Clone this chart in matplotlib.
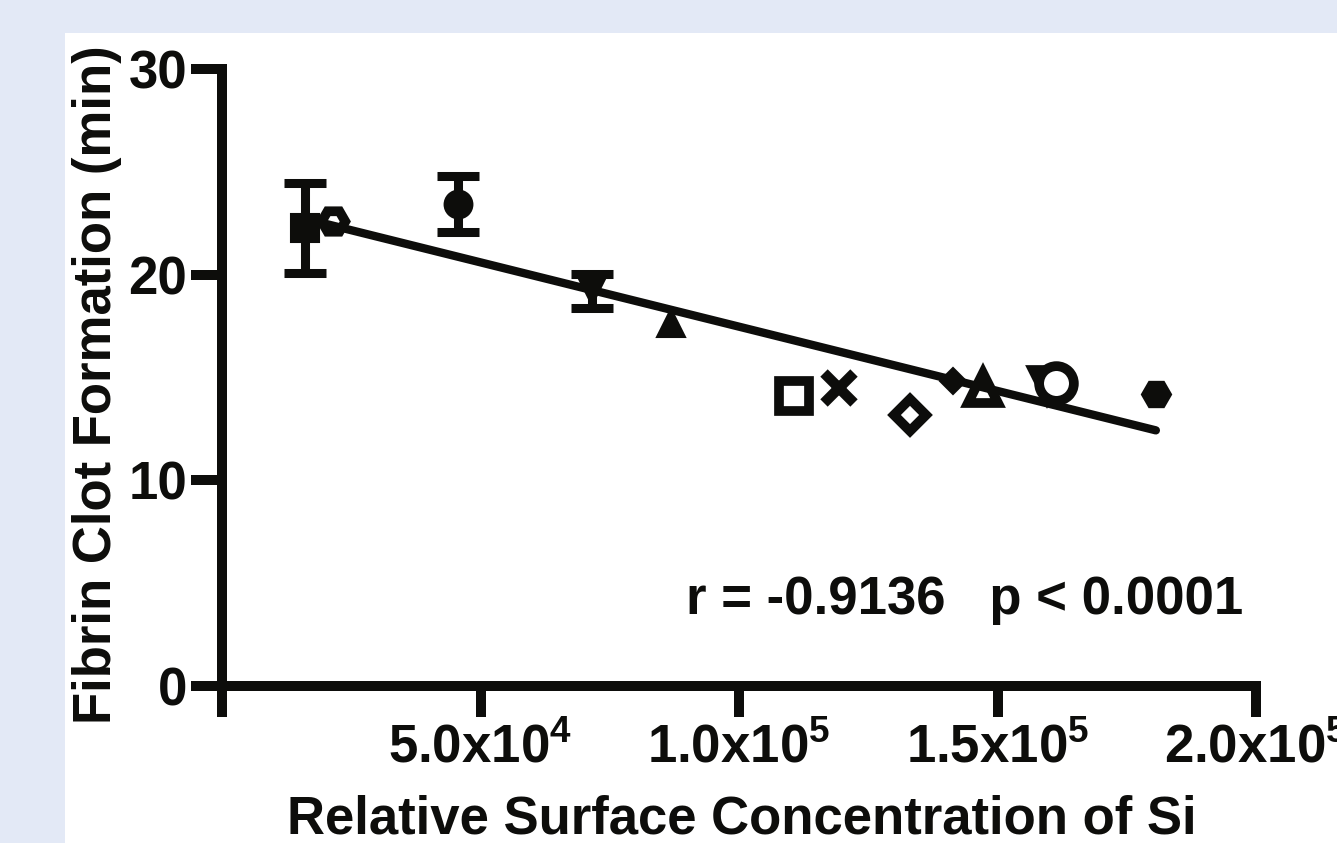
import matplotlib
matplotlib.use("Agg")
import matplotlib.pyplot as plt
from matplotlib import font_manager
from matplotlib.patches import Rectangle

# ---------------- data ----------------
si_conc = [16070, 21490, 45690, 71630, 86930, 110550, 119260,
           133000, 141330, 147140, 159530, 161270, 180630]
clot_time = [22.28, 22.62, 23.45, 19.22, 17.65, 14.08, 14.47,
             13.20, 14.85, 14.51, 14.66, 14.71, 14.22]
clot_err = [2.2, 0.0, 1.36, 0.83, 0.0, 0.0, 0.0,
            0.0, 0.0, 0.0, 0.0, 0.0, 0.0]
markers = ['s', 'H', 'o', 'v', '^', 's', 'x',
           'D', 'D', '^', 'v', 'o', 'H']
filled = [True, False, True, True, True, False, True,
          False, True, False, False, False, True]
fit_x = [16070, 180630]
fit_y = [22.72, 12.43]
x_ticks = [0, 50000, 100000, 150000, 200000]
x_ticklabels = ['', r'$\mathrm{5.0x10^{4}}$', r'$\mathrm{1.0x10^{5}}$',
                r'$\mathrm{1.5x10^{5}}$', r'$\mathrm{2.0x10^{5}}$']
y_ticks = [0, 10, 20, 30]
y_ticklabels = ['0', '10', '20', '30']
annotation = 'r = -0.9136   p < 0.0001'
xlabel = 'Relative Surface Concentration of Si'
ylabel = 'Fibrin Clot Formation (min)'

# ---------------- fonts ----------------
names = {f.name for f in font_manager.fontManager.ttflist}
if 'Liberation Sans Narrow' in names:
    fam, fs = 'Liberation Sans Narrow', 45
else:
    fam, fs = 'Liberation Sans', 38
plt.rcParams['font.family'] = [fam, 'DejaVu Sans']
plt.rcParams['font.weight'] = 'bold'
plt.rcParams['mathtext.fontset'] = 'custom'
plt.rcParams['mathtext.rm'] = f'{fam}:bold'
plt.rcParams['mathtext.it'] = f'{fam}:bold'
plt.rcParams['mathtext.bf'] = f'{fam}:bold'
plt.rcParams['mathtext.sf'] = f'{fam}:bold'

W, H = 1337, 843
fig = plt.figure(figsize=(W / 100, H / 100), dpi=100)
fig.patch.set_facecolor('#e3e9f6')
fig.patches.append(Rectangle((65 / W, 0), 1, 1 - 33 / H, transform=fig.transFigure,
                             facecolor='white', edgecolor='none', zorder=-5))

ax = fig.add_axes([222 / W, (H - 686) / H, (1256 - 222) / W, (686 - 69) / H])
ax.set_facecolor('none')
ax.set_xlim(0, 200000)
ax.set_ylim(0, 30)

black = '#0d0d0b'
lw_axis = 7.2
for s in ['top', 'right']:
    ax.spines[s].set_visible(False)
for s in ['left', 'bottom']:
    ax.spines[s].set_linewidth(lw_axis)
    ax.spines[s].set_color(black)
    ax.spines[s].set_capstyle('projecting')

ax.set_xticks(x_ticks)
ax.set_xticklabels(x_ticklabels)
ax.set_yticks(y_ticks)
ax.set_yticklabels(y_ticklabels)
ax.tick_params(axis='both', direction='out', length=22, width=lw_axis,
               color=black, labelsize=fs, labelcolor=black)
ax.tick_params(axis='x', pad=5)
ax.tick_params(axis='y', pad=3)

# marker styling per point (filled size pt, open size pt)
sizes = {'s': (19.5, 21.6), 'H': (21, 17), 'o': (20, 25), 'v': (20, 20),
         '^': (20, 21), 'x': (21, 21), 'D': (13, 15.8)}
for i in range(len(si_conc)):
    m = markers[i]
    fsz, osz = sizes[m]
    if m == 'x':
        ax.plot(si_conc[i], clot_time[i], marker='x', ms=osz, mew=7.5,
                color=black, ls='none', zorder=3, clip_on=False)
    elif filled[i]:
        ax.plot(si_conc[i], clot_time[i], marker=m, ms=fsz, mew=1.5,
                mfc=black, mec=black, ls='none', zorder=3, clip_on=False)
    else:
        ax.plot(si_conc[i], clot_time[i], marker=m, ms=osz, mew=7.0,
                mfc='white', mec=black, ls='none', zorder=3, clip_on=False)
    if clot_err[i] > 0:
        ax.errorbar(si_conc[i], clot_time[i], yerr=clot_err[i], fmt='none',
                    ecolor=black, elinewidth=6.5, capsize=15, capthick=6.5,
                    zorder=3, clip_on=False)

ax.plot(fit_x, fit_y, color=black, lw=6, solid_capstyle='round', zorder=4)

ax.text(89750, 3.5, annotation, ha='left', va='baseline', fontsize=fs,
        color=black, fontweight='bold')

fig.text(97 / W, 1 - 385 / H, ylabel, rotation=90, ha='center', va='center',
         fontsize=fs, color=black, fontweight='bold')
fig.text(742 / W, (H - 834) / H, xlabel, ha='center', va='baseline',
         fontsize=fs, color=black, fontweight='bold')

fig.savefig('out.png', dpi=100, facecolor=fig.get_facecolor())
